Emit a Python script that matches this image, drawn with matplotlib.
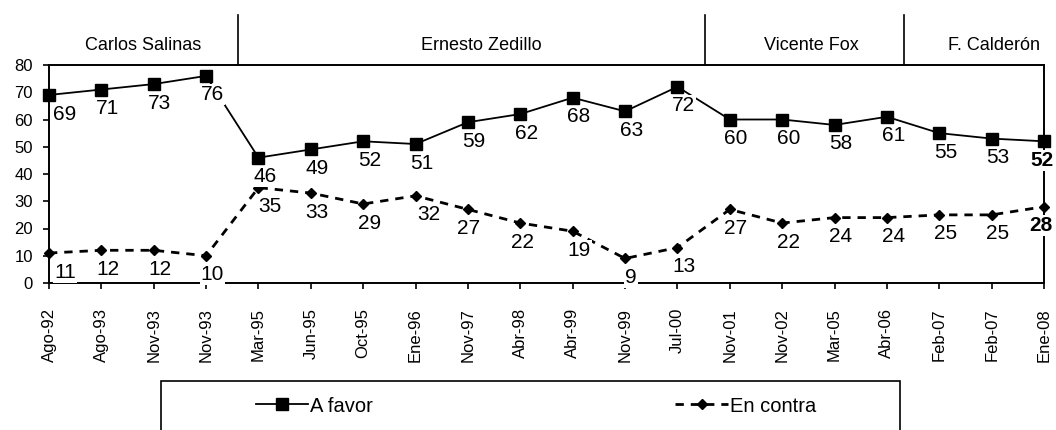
import matplotlib
matplotlib.use('Agg')
import matplotlib.pyplot as plt
from matplotlib.patches import Rectangle
import numpy as np

plt.rcParams['font.family'] = ['Liberation Sans', 'DejaVu Sans']

# Survey dates
fechas = ['Ago-92', 'Ago-93', 'Nov-93', 'Nov-93', 'Mar-95', 'Jun-95', 'Oct-95', 'Ene-96',
          'Nov-97', 'Abr-98', 'Abr-99', 'Nov-99', 'Jul-00', 'Nov-01', 'Nov-02', 'Mar-05',
          'Abr-06', 'Feb-07', 'Feb-07', 'Ene-08']

# Percentages
a_favor = [69, 71, 73, 76, 46, 49, 52, 51, 59, 62, 68, 63, 72, 60, 60, 58, 61, 55, 53, 52]
en_contra = [11, 12, 12, 10, 35, 33, 29, 32, 27, 22, 19, 9, 13, 27, 22, 24, 24, 25, 25, 28]

# Presidential terms: name, label centre, right boundary (in category units)
presidentes = ['Carlos Salinas', 'Ernesto Zedillo', 'Vicente Fox', 'F. Calderón']
centros = [1.8, 8.25, 14.55, 18.05]
limites = [3.6, 12.52, 16.33]

fig = plt.figure(figsize=(10.56, 4.30), dpi=100)
ax = fig.add_axes([49 / 1056, 1 - 283 / 430, 995 / 1056, 218 / 430])

x = np.arange(len(fechas))
ax.plot(x, a_favor, color='black', lw=1.3, marker='s', markersize=8.5,
        clip_on=False, zorder=3, label='A favor')
ax.plot(x, en_contra, color='black', lw=2.0, linestyle=(0, (3, 2.5)), marker='D',
        markersize=5, clip_on=False, zorder=3, label='En contra')

# value labels below each point
def etiquetas(valores, nudges):
    for i, v in enumerate(valores):
        bold = i == len(valores) - 1
        dx = 4.5 + nudges.get(i, 0)
        ax.annotate(str(v), (i, v), xytext=(dx, -13.7), textcoords='offset points',
                    ha='center', va='center', fontsize=15,
                    fontweight='bold' if bold else 'normal',
                    bbox=dict(boxstyle='square,pad=0.05', fc='white', ec='none'),
                    zorder=5, annotation_clip=False)

etiquetas(a_favor, {0: 7, 19: -6})
etiquetas(en_contra, {0: 7, 4: 4, 7: 5, 8: -4, 9: -3, 19: -7})

ax.set_xlim(0, len(fechas) - 1)
ax.set_ylim(0, 80)
ax.set_yticks(range(0, 81, 10))
ax.set_xticks(x)
ax.set_xticklabels(fechas, rotation=90, fontsize=12)
ax.tick_params(axis='x', direction='out', length=4, width=1.2, pad=14)
ax.tick_params(axis='y', direction='out', length=4.5, width=1.2, pad=7, labelsize=12)
for s in ax.spines.values():
    s.set_linewidth(1.4)
    s.set_color('black')

# header with the presidential terms
trans = ax.get_xaxis_transform()
for b in limites:
    ax.plot([b, b], [1, 1 + 50 / 218], color='black', lw=1.2, transform=trans, clip_on=False)
for nombre, c in zip(presidentes, centros):
    ax.text(c, 1 + 20 / 218, nombre, transform=trans, ha='center', va='center', fontsize=13)

# legend box
fig.add_artist(Rectangle((161 / 1056, -0.01), 739 / 1056, 49 / 430 + 0.01,
                         transform=fig.transFigure, fill=False, ec='black', lw=1.2))
handles, labels = ax.get_legend_handles_labels()
fig.legend(handles, labels, loc='center', bbox_to_anchor=(536 / 1056, 1 - 406 / 430),
           ncol=2, frameon=False, fontsize=14.5, handlelength=2.6, handletextpad=0.1,
           columnspacing=15)

fig.savefig('out.png', dpi=100)
